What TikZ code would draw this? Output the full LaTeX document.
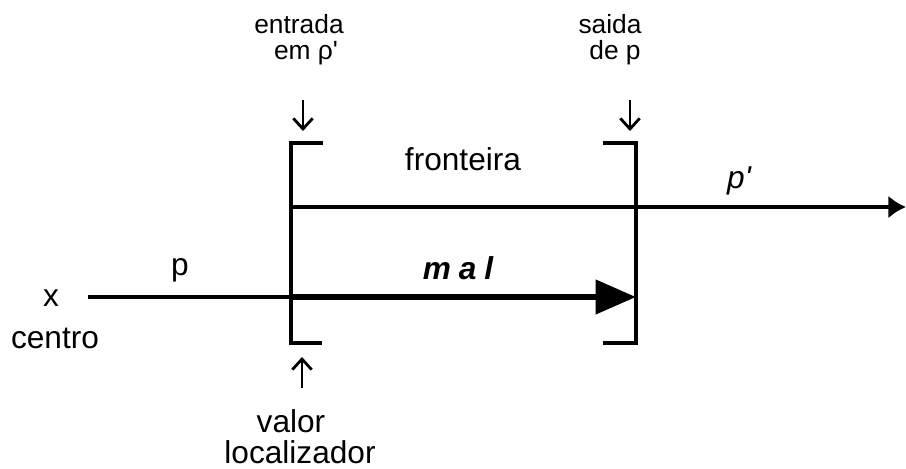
\documentclass[tikz,border=0pt]{standalone}
\usepackage{fontspec}
\setmainfont{Liberation Sans}
\usetikzlibrary{arrows.meta,positioning}

\begin{document}
\begin{tikzpicture}[x=0.02cm, y=-0.02cm,
  lbl/.style={font=\fontsize{18}{20}\selectfont, inner sep=0pt},
  toplbl/.style={font=\fontsize{15}{16}\selectfont, inner sep=0pt},
  pointer/.style={-{Straight Barb[length=6pt,width=11pt]}, line width=1.6pt},
  edge/.style={line width=2pt}]
  \useasboundingbox (0,0) rectangle (906,468);

  % fronteira (brackets)
  \coordinate (lt0) at (323,143);
  \coordinate (lt) at (291,143);
  \coordinate (lb) at (291,343);
  \coordinate (lb0) at (322,343);
  \coordinate (rt0) at (603,143);
  \coordinate (rt) at (636,143);
  \coordinate (rb) at (636,343);
  \coordinate (rb0) at (603,343);
  \draw[edge] (lt0) -- (lt) -- (lb) -- (lb0);
  \draw[edge] (rt0) -- (rt) -- (rb) -- (rb0);
  \node[lbl] (front) at (463,159) {fronteira};

  % p' line
  \coordinate (pin) at (291,207);
  \coordinate (pend) at (906,207);
  \draw[edge, -{Latex[length=10pt,width=13pt]}] (pin) -- (pend);
  \node[lbl] (plin) at (739,181) {\itshape p\textquotesingle};

  % p line
  \node[lbl] (x) at (51,298) {x};
  \node[lbl] (centro) at (55,338) {centro};
  \coordinate (pstart) at (88,297);
  \coordinate (pent) at (291,297);
  \coordinate (pexit) at (636,297);
  \draw[edge] (pstart) -- (pent);
  \draw[line width=3.6pt, -{Triangle[length=23pt,width=19pt]}] (pent) -- (pexit);
  \node[lbl] (plbl) at (180,270) {p};
  \node[lbl] (mal) at (458,268) {\bfseries\itshape\addfontfeature{LetterSpace=25}mal};

  % pointers
  \node[toplbl] (entrada) at (299,24) {entrada};
  \node[toplbl] (em) at (306,53) {em ρ\textquotesingle};
  \coordinate (ina) at (303,100);
  \coordinate (inb) at (303,131);
  \draw[pointer] (ina) -- (inb);

  \node[toplbl] (saida) at (610,24) {saida};
  \node[toplbl] (de) at (615,53) {de p};
  \coordinate (outa) at (630,100);
  \coordinate (outb) at (630,131);
  \draw[pointer] (outa) -- (outb);

  \coordinate (vala) at (302,388);
  \coordinate (valb) at (302,357);
  \draw[pointer] (vala) -- (valb);
  \node[lbl] (valor) at (291,421) {valor};
  \node[lbl] (local) at (300,452) {localizador};
\end{tikzpicture}
\end{document}
